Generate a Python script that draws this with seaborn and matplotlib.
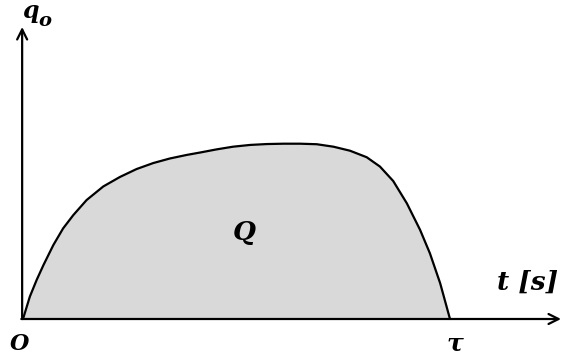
import numpy as np
import pandas as pd
import matplotlib
matplotlib.use("Agg")
import matplotlib.pyplot as plt
import seaborn as sns

# Values (t in units of tau, q normalised to the peak)
t_vals = [0.0, 0.016, 0.032, 0.048, 0.071, 0.094, 0.118, 0.149, 0.188, 0.227,
          0.266, 0.305, 0.344, 0.383, 0.415, 0.454, 0.492, 0.532, 0.571, 0.610,
          0.649, 0.688, 0.727, 0.766, 0.805, 0.836, 0.867, 0.899, 0.930, 0.953,
          0.977, 1.0]
q_vals = [0.0, 0.127, 0.222, 0.307, 0.420, 0.515, 0.591, 0.676, 0.753, 0.807,
          0.852, 0.886, 0.912, 0.932, 0.946, 0.964, 0.979, 0.989, 0.994, 0.996,
          0.996, 0.993, 0.979, 0.956, 0.919, 0.866, 0.784, 0.657, 0.506, 0.373,
          0.203, 0.0]

df = pd.DataFrame({"t": t_vals, "q": q_vals})

sns.set_style("white")
plt.rcParams["font.family"] = ["DejaVu Serif"]

W, H = 562, 354
fig = plt.figure(figsize=(W / 100, H / 100), dpi=100)
ax = fig.add_axes([0, 0, 1, 1])

# pixel mapping: px = 23 + 427 t, py = 319 - 176 q
ax.set_xlim(-23 / 427, 539 / 427)
ax.set_ylim(-35 / 176, 319 / 176)
ax.axis("off")

ax.fill_between(df["t"], df["q"], 0, color="#d9d9d9", lw=0)
sns.lineplot(data=df, x="t", y="q", ax=ax, color="black", lw=1.6, sort=False)
ax.lines[-1].set_solid_joinstyle("round")

# axes with arrows
arrow = dict(arrowstyle="->", color="black", lw=1.6, mutation_scale=18,
             shrinkA=0, shrinkB=0)
ax.annotate("", xy=(-0.002, 292 / 176), xytext=(-0.002, 0), arrowprops=arrow)
ax.annotate("", xy=(538 / 427, 0), xytext=(-0.004, 0), arrowprops=arrow)

def fx(px):
    return px / W

def fy(py):
    return 1 - py / H

tk = dict(fontweight="bold", fontstyle="italic", color="black")
fig.text(fx(22), fy(18), "q", fontsize=17, ha="left", va="baseline", **tk)
fig.text(fx(38), fy(26), "o", fontsize=14, ha="left", va="baseline", **tk)
fig.text(fx(497), fy(290), "t [s]", fontsize=19, ha="left", va="baseline", **tk)
fig.text(fx(244), fy(240), "Q", fontsize=19, ha="center", va="baseline", **tk)
fig.text(fx(455), fy(350), "τ", fontsize=18, ha="center", va="baseline", **tk)
fig.text(fx(20), fy(350), "O", fontsize=16, ha="center", va="baseline", **tk)

fig.savefig("out.png", dpi=100)
